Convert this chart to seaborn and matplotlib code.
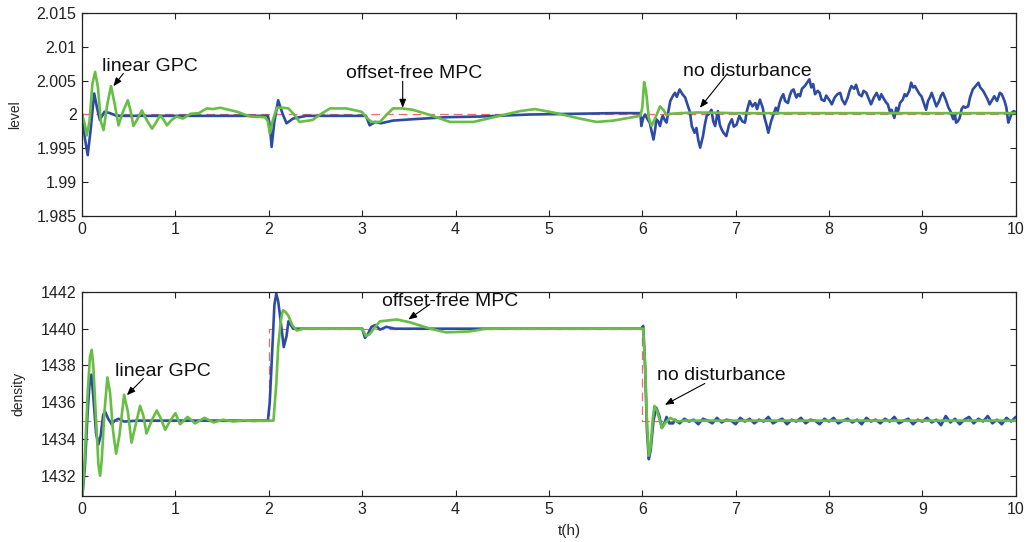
import numpy as np
import matplotlib
matplotlib.use("Agg")
import matplotlib.pyplot as plt
from matplotlib.ticker import FuncFormatter
import seaborn as sns

# ---- level (top panel) ----
level_ref_t = [0, 10]
level_ref = [2.0, 2.0]

level_blue_t = [0, 0.03, 0.06, 0.09, 0.13, 0.16, 0.19, 0.24, 0.30, 0.37, 0.5, 1.0, 1.5, 1.99,
                2.01, 2.03, 2.06, 2.10, 2.15, 2.19, 2.26, 2.4, 2.8, 3.04, 3.08, 3.14, 3.2, 3.33,
                3.54, 3.9, 4.26, 4.8, 5.69, 5.98, 5.99, 6.01, 6.03, 6.06, 6.08, 6.10, 6.12, 6.14,
                6.15, 6.17, 6.19, 6.21, 6.22, 6.24, 6.26, 6.28,
                6.30, 6.33, 6.35, 6.37, 6.40, 6.43, 6.46, 6.49, 6.51, 6.53, 6.56, 6.58, 6.60,
                6.62, 6.65, 6.67, 6.69, 6.72, 6.74, 6.76, 6.78, 6.81, 6.83, 6.85, 6.87, 6.90,
                6.93, 6.96, 6.98, 7.01, 7.04, 7.07, 7.10, 7.12, 7.15, 7.18, 7.21, 7.23, 7.26,
                7.29, 7.31, 7.33, 7.35, 7.38, 7.40, 7.43, 7.45, 7.47, 7.49, 7.51, 7.53, 7.56,
                7.58, 7.60, 7.62, 7.65, 7.67, 7.69, 7.71, 7.74, 7.77, 7.79, 7.81, 7.83, 7.85,
                7.88, 7.90, 7.92, 7.95, 7.97, 8.01, 8.03, 8.06, 8.09, 8.12, 8.14, 8.17, 8.20,
                8.22, 8.24, 8.27, 8.29, 8.32, 8.35, 8.37, 8.40, 8.43, 8.45, 8.48, 8.51, 8.54,
                8.56, 8.58, 8.61, 8.63, 8.65, 8.67, 8.70, 8.72, 8.74, 8.76, 8.79, 8.81, 8.83,
                8.86, 8.88, 8.90, 8.92, 8.94, 8.97, 8.99, 9.02, 9.04, 9.06, 9.08, 9.10, 9.13,
                9.15, 9.18, 9.20, 9.22, 9.25, 9.28, 9.30, 9.33, 9.35, 9.36, 9.38, 9.40, 9.42,
                9.44, 9.46, 9.49, 9.51, 9.54, 9.57, 9.60, 9.62, 9.65, 9.67, 9.70, 9.72, 9.75,
                9.77, 9.80, 9.83, 9.85, 9.88, 9.90, 9.92, 9.94, 9.96, 9.98, 10.0]
level_blue = [2.0, 1.9965, 1.9940, 1.9975, 2.0031, 2.0010, 1.9992, 2.0004, 2.0002, 1.9998,
              1.9998, 1.9998, 1.9998, 1.9998,
              1.9985, 1.9952, 1.9990, 2.0021, 2.0000, 1.9987, 1.9994, 1.9998, 1.9998, 1.9998,
              1.9984, 1.9989, 1.9987, 1.9991, 1.9993, 1.9996, 1.9997, 2.0000, 2.0002, 2.0002,
              1.9983, 1.9995, 2.0000, 1.9992, 1.9988, 1.9975, 1.9963, 1.9980, 1.9993, 1.9990,
              1.9983, 1.9995, 1.9998, 1.9992, 1.9988, 2.0005,
              2.0020, 2.0028, 2.0032, 2.0026, 2.0037, 2.0030, 2.0025, 2.0012, 2.0004, 1.9983,
              1.9973, 1.9980, 1.9962, 1.9951, 1.9968, 1.9985, 1.9998, 2.0002, 2.0007, 1.9990,
              1.9983, 2.0005, 1.9985, 1.9978, 1.9973, 1.9968, 1.9985, 1.9993, 1.9982, 1.9985,
              1.9998, 1.9990, 1.9988, 2.0005, 2.0020, 2.0012, 2.0017, 2.0008, 2.0022, 2.0010,
              1.9995, 1.9985, 1.9973, 1.9990, 1.9998, 2.0010, 2.0005, 2.0017, 2.0025, 2.0030,
              2.0020, 2.0017, 2.0028, 2.0035, 2.0037, 2.0025, 2.0030, 2.0027, 2.0038, 2.0042,
              2.0048, 2.0052, 2.0040, 2.0045, 2.0030, 2.0035, 2.0032, 2.0022, 2.0020, 2.0028,
              2.0020, 2.0015, 2.0025, 2.0030, 2.0032, 2.0022, 2.0015, 2.0025, 2.0035, 2.0042,
              2.0038, 2.0044, 2.0030, 2.0027, 2.0035, 2.0032, 2.0022, 2.0015, 2.0025, 2.0032,
              2.0022, 2.0030, 2.0025, 2.0018, 2.0015, 2.0005, 2.0007, 1.9995, 2.0010, 2.0005,
              2.0017, 2.0022, 2.0030, 2.0027, 2.0035, 2.0047, 2.0040, 2.0042, 2.0037, 2.0030,
              2.0027, 2.0015, 2.0007, 2.0020, 2.0025, 2.0032, 2.0020, 2.0012, 2.0020, 2.0028,
              2.0032, 2.0022, 2.0010, 2.0005, 1.9993, 2.0000, 1.9988, 1.9990, 1.9995, 2.0008,
              2.0012, 2.0010, 2.0012, 2.0025, 2.0037, 2.0042, 2.0047, 2.0040, 2.0035, 2.0030,
              2.0022, 2.0015, 2.0022, 2.0027, 2.0020, 2.0032, 2.0030, 2.0020, 2.0010, 1.9988,
              1.9995, 2.0003, 2.0005, 2.0003]

level_green_t = [0, 0.03, 0.05, 0.08, 0.11, 0.14, 0.17, 0.20, 0.23, 0.27, 0.31, 0.35, 0.39,
                 0.44, 0.49, 0.52, 0.55, 0.60, 0.64, 0.70, 0.75, 0.80, 0.835, 0.87, 0.91, 0.96,
                 1.01, 1.08, 1.16, 1.25, 1.335, 1.40, 1.48, 1.57, 1.66, 1.80, 1.96, 1.99, 2.01,
                 2.04, 2.085, 2.15, 2.21, 2.27, 2.33, 2.47, 2.55, 2.655, 2.83, 2.995, 3.05, 3.10,
                 3.19, 3.25, 3.33, 3.43, 3.54, 3.71, 3.94, 4.19, 4.44, 4.69, 4.85, 5.08, 5.33,
                 5.51, 5.69, 5.98, 6.00, 6.02, 6.04, 6.07, 6.10, 6.14, 6.19, 6.23, 6.26, 6.30,
                 6.40, 6.60, 7.0, 8.0, 9.0, 10.0]
level_green = [2.0, 1.9985, 1.9969, 1.9990, 2.0045, 2.0063, 2.0040, 1.9990, 1.9977, 2.0015,
               2.0042, 2.0015, 1.9984, 2.0005, 2.0021, 2.0005, 1.9983, 1.9995, 2.0006, 1.9990,
               1.9979, 1.9990, 1.9999, 1.9993, 1.9984, 1.9992, 1.9997, 1.9994, 2.0001, 2.0002,
               2.0009, 2.0008, 2.0010, 2.0007, 2.0004, 1.9997, 1.9996, 1.9990, 1.9972, 1.9990,
               2.0010, 2.0010, 2.0009, 2.0000, 1.9989, 1.9992, 2.0000, 2.0009, 2.0009, 2.0004,
               1.9995, 1.9989, 1.9989, 1.9998, 2.0009, 2.0009, 2.0007, 2.0000, 1.9989, 1.9989,
               1.9997, 2.0005, 2.0008, 2.0002, 1.9994, 1.9989, 1.9991, 1.9998, 2.0010, 2.0048,
               2.0035, 1.9995, 1.9983, 1.9995, 2.0012, 2.0006, 1.9999, 2.0001, 2.0002, 2.0003,
               2.0002, 2.0002, 2.0002, 2.0002]

# ---- density (bottom panel) ----
density_ref_t = [0, 2, 2, 6, 6, 10]
density_ref = [1435, 1435, 1440, 1440, 1435, 1435]

density_blue_t = [0, 0.03, 0.06, 0.08, 0.10, 0.12, 0.15, 0.175, 0.20, 0.225, 0.246, 0.28,
                  0.318, 0.35, 0.39, 0.45, 0.6, 1.99, 2.01, 2.03, 2.06, 2.08, 2.10, 2.12, 2.16,
                  2.19, 2.21, 2.26, 2.5, 3.0, 3.03, 3.06, 3.10, 3.14, 3.19, 3.26, 3.35, 5.99,
                  6.01, 6.03, 6.05, 6.07, 6.09, 6.12, 6.15, 6.18, 6.21, 6.24, 6.26, 6.29, 6.33]
density_blue = [1430.7, 1432.5, 1435.5, 1437.0, 1437.5, 1436.3, 1434.3, 1433.7, 1434.2,
                1435.3, 1435.5, 1435.1, 1434.8, 1435.0, 1435.1, 1434.95, 1435.0, 1435.0,
                1436.0, 1438.1, 1441.3, 1441.9, 1441.5, 1440.7, 1439.0, 1439.6, 1440.4,
                1440.0, 1440.0, 1440.0, 1439.5, 1439.7, 1440.1, 1440.2, 1439.95, 1440.1,
                1440.0, 1440.0, 1440.15, 1438.0, 1434.5, 1432.9, 1433.4, 1435.0, 1435.7,
                1435.3, 1434.6, 1434.9, 1435.2, 1434.85, 1434.85]
# measurement noise after t = 6.35 h, sampled every 0.05 h
density_blue_tail = [1435.05, 1434.85, 1435.10, 1434.95, 1435.05, 1434.80, 1435.10, 1435.00,
                     1434.85, 1435.15, 1434.90, 1435.05, 1435.00, 1434.80, 1435.15, 1434.95,
                     1435.10, 1434.85, 1435.05, 1434.95, 1435.20, 1434.85, 1435.00, 1435.10,
                     1434.80, 1435.05, 1434.95, 1435.15, 1434.85, 1435.05, 1435.00, 1434.80,
                     1435.10, 1434.95, 1435.15, 1434.85, 1435.00, 1435.10, 1434.90, 1435.05,
                     1434.80, 1435.15, 1434.95, 1435.05, 1434.85, 1435.10, 1434.95, 1435.20,
                     1434.85, 1435.00, 1435.10, 1434.80, 1435.05, 1434.95, 1435.15, 1434.90,
                     1435.05, 1434.75, 1435.25, 1434.90, 1435.10, 1434.80, 1435.05, 1435.20,
                     1434.85, 1435.10, 1434.95, 1435.25, 1434.85, 1435.05, 1434.80, 1435.15,
                     1434.95, 1435.20]

density_green_t = [0, 0.03, 0.06, 0.085, 0.103, 0.12, 0.15, 0.175, 0.193, 0.21, 0.24, 0.271,
                   0.30, 0.33, 0.364, 0.40, 0.45, 0.49, 0.53, 0.575, 0.621, 0.655, 0.69, 0.745,
                   0.80, 0.845, 0.89, 0.945, 1.0, 1.05, 1.13, 1.21, 1.31, 1.41, 1.51, 1.62,
                   1.73, 1.83, 2.05, 2.08, 2.10, 2.13, 2.15, 2.18, 2.21, 2.25, 2.30, 2.37, 3.0,
                   3.04, 3.08, 3.14, 3.19, 3.37, 3.51, 3.73, 3.90, 4.15, 4.33, 6.01, 6.03, 6.05,
                   6.07, 6.09, 6.11, 6.13, 6.16, 6.21, 6.25, 6.30, 6.37, 6.45, 10.0]
density_green = [1430.7, 1433.0, 1436.5, 1438.5, 1438.85, 1438.0, 1435.0, 1432.6, 1432.0,
                 1432.8, 1435.5, 1437.35, 1436.5, 1434.5, 1433.2, 1434.2, 1436.4, 1435.5,
                 1433.8, 1434.8, 1435.8, 1435.3, 1434.3, 1435.0, 1435.55, 1435.1, 1434.5,
                 1435.0, 1435.4, 1434.8, 1435.2, 1434.85, 1435.15, 1434.9, 1435.05, 1434.95,
                 1435.02, 1434.98, 1435.0, 1437.0, 1439.0, 1440.5, 1441.0, 1440.9, 1440.7,
                 1440.2, 1439.9, 1440.0, 1440.0, 1439.6, 1439.7, 1440.1, 1440.4, 1440.5,
                 1440.35, 1440.0, 1439.8, 1439.85, 1440.0, 1440.0, 1438.0, 1435.0, 1433.1,
                 1433.6, 1435.0, 1435.8, 1435.5, 1434.6, 1434.9, 1435.15, 1434.95, 1435.0,
                 1435.0]

BLUE = "#2D4BA5"
GREEN = "#66BE44"
RED = "#F06868"

sns.set_style("white")
plt.rcParams["font.family"] = ["Liberation Sans", "DejaVu Sans"]

fig = plt.figure(figsize=(10.26, 5.42), dpi=100)
ax1 = fig.add_axes([0.080, 0.6015, 0.910, 0.3745])
ax2 = fig.add_axes([0.080, 0.0849, 0.910, 0.3765])

tail_t = np.linspace(6.35, 10.0, len(density_blue_tail))
d_blue_t = list(density_blue_t) + list(tail_t)
d_blue = list(density_blue) + list(density_blue_tail)


def draw(ax, ref_t, ref, bt, bv, gt, gv):
    sns.lineplot(x=ref_t, y=ref, ax=ax, sort=False, estimator=None, color=RED,
                 linewidth=0.9, dashes=False, linestyle=(0, (7, 4)))
    sns.lineplot(x=bt, y=bv, ax=ax, sort=False, estimator=None, color=BLUE, linewidth=1.9)
    sns.lineplot(x=gt, y=gv, ax=ax, sort=False, estimator=None, color=GREEN, linewidth=1.9)
    ax.set_xlim(0, 10)
    ax.set_xticks(range(0, 11))
    ax.tick_params(direction="in", length=4, width=0.8, labelsize=11.5, pad=4,
                   top=True, right=True, bottom=True, left=True, colors="#222222")
    for s in ax.spines.values():
        s.set_color("#222222")
        s.set_linewidth(0.9)
    ax.yaxis.set_major_formatter(FuncFormatter(lambda v, p: "%g" % round(v, 4)))


draw(ax1, level_ref_t, level_ref, level_blue_t, level_blue, level_green_t, level_green)
ax1.set_ylim(1.985, 2.015)
ax1.set_yticks([1.985, 1.99, 1.995, 2.0, 2.005, 2.01, 2.015])
ax1.set_ylabel("level", fontsize=10)
ax1.yaxis.set_label_coords(-0.064, 0.5)

draw(ax2, density_ref_t, density_ref, d_blue_t, d_blue, density_green_t, density_green)
ax2.set_ylim(1430.9, 1442)
ax2.set_yticks([1432, 1434, 1436, 1438, 1440, 1442])
ax2.set_ylabel("density", fontsize=10)
ax2.yaxis.set_label_coords(-0.061, 0.5)
ax2.set_xlabel("t(h)", fontsize=11)
ax2.xaxis.set_label_coords(0.522, -0.135)

arrow = dict(arrowstyle="-|>,head_length=0.5,head_width=0.2", color="black", lw=0.8,
             shrinkA=0, shrinkB=0)
notes = [
    (ax1, "linear GPC", (0.214, 2.00713), (0.442, 2.00606), (0.335, 2.00418)),
    (ax1, "offset-free MPC", (2.827, 2.00606), (3.434, 2.00492), (3.434, 2.00099)),
    (ax1, "no disturbance", (6.435, 2.00631), (6.903, 2.00591), (6.617, 2.00099)),
    (ax2, "linear GPC", (0.353, 1437.66), (0.656, 1437.29), (0.479, 1436.38)),
    (ax2, "offset-free MPC", (3.209, 1441.46), (3.726, 1441.33), (3.494, 1440.50)),
    (ax2, "no disturbance", (6.153, 1437.48), (6.670, 1437.02), (6.242, 1435.86)),
]
for ax, label, pos, start, tip in notes:
    ax.text(pos[0], pos[1], label, fontsize=14, ha="left", va="center", color="#111111")
    ax.annotate("", xy=tip, xytext=start, arrowprops=arrow)

fig.savefig("out.png", dpi=100)
plt.close(fig)
